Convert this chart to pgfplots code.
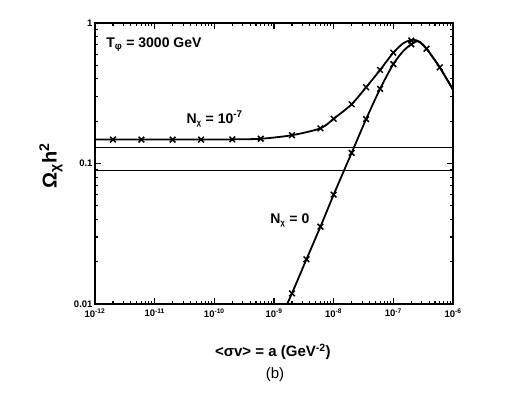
\documentclass[border=0pt]{standalone}
\usepackage{fontspec}
\setmainfont{Liberation Sans}
\usepackage{pgfplots}
\pgfplotsset{compat=1.18}

\begin{document}
\begin{tikzpicture}
\useasboundingbox (-95pt,-89pt) rectangle (431pt,304pt);
\begin{axis}[
  scale only axis, width=358pt, height=281pt,
  xmode=log, ymode=log,
  xmin=1e-12, xmax=1e-6, ymin=0.01, ymax=1,
  axis line style={line width=1.8pt},
  tick align=inside,
  major tick length=6pt, minor tick length=3pt,
  every tick/.style={black, line width=1.1pt},
  xtick={1e-12,1e-11,1e-10,1e-9,1e-8,1e-7,1e-6},
  xticklabels={10\textsuperscript{-12},10\textsuperscript{-11},10\textsuperscript{-10},10\textsuperscript{-9},10\textsuperscript{-8},10\textsuperscript{-7},10\textsuperscript{-6}},
  ytick={0.01,0.1,1}, yticklabels={0.01,0.1,1},
  tick label style={font=\fontsize{9.5}{10}\selectfont\bfseries},
  xticklabel style={yshift=-1pt},
  yticklabel style={xshift=1pt},
  clip mode=individual,
]
% WMAP band
\addplot[black, line width=0.8pt] coordinates {(1e-12,0.13) (1e-6,0.13)};
\addplot[black, line width=0.8pt] coordinates {(1e-12,0.089) (1e-6,0.089)};

% N_chi = 1e-7
\addplot[black, line width=1.8pt, smooth, tension=0.45] coordinates {
  (1e-12,0.148) (2e-12,0.148) (6e-12,0.148) (2e-11,0.148) (6e-11,0.148)
  (2e-10,0.1485) (6e-10,0.150) (2e-9,0.159) (6e-9,0.178) (1e-8,0.208)
  (2e-8,0.264) (3.5e-8,0.349) (6e-8,0.463) (1e-7,0.615) (1.5e-7,0.722)
  (2.15e-7,0.76) (2.8e-7,0.732) (3.6e-7,0.656) (6e-7,0.483) (1e-6,0.335)};
\addplot[black, only marks, mark=x, mark size=4pt, mark options={line width=1.5pt}] coordinates {
  (2e-12,0.148) (6e-12,0.148) (2e-11,0.148) (6e-11,0.148)
  (2e-10,0.1485) (6e-10,0.150) (2e-9,0.159) (6e-9,0.178) (1e-8,0.208)
  (2e-8,0.264) (3.5e-8,0.349) (6e-8,0.463) (1e-7,0.615) (2e-7,0.75)
  (3.6e-7,0.656) (6e-7,0.483)};

% N_chi = 0
\addplot[black, line width=1.8pt, smooth, tension=0.45] coordinates {
  (1.66e-9,0.01) (2e-9,0.0119) (3.5e-9,0.0208) (6e-9,0.0355) (1e-8,0.060)
  (2e-8,0.119) (3.5e-8,0.207) (6e-8,0.34) (1e-7,0.51) (1.5e-7,0.638)
  (2e-7,0.705) (2.6e-7,0.74) (3.6e-7,0.656) (6e-7,0.483) (1e-6,0.335)};
\addplot[black, only marks, mark=x, mark size=4pt, mark options={line width=1.5pt}] coordinates {
  (2e-9,0.0119) (3.5e-9,0.0208) (6e-9,0.0355) (1e-8,0.060)
  (2e-8,0.119) (3.5e-8,0.207) (6e-8,0.34) (1e-7,0.51) (2e-7,0.705)};

\node[anchor=base west, font=\fontsize{14}{16}\selectfont\bfseries]
  at (axis description cs:0.022,0.912) {T\textsubscript{φ} = 3000 GeV};
\node[anchor=base west, font=\fontsize{14}{16}\selectfont\bfseries]
  at (axis description cs:0.246,0.644) {N\textsubscript{\fontsize{8}{9}\selectfont χ} = 10\textsuperscript{-7}};
\node[anchor=base west, font=\fontsize{14}{16}\selectfont\bfseries]
  at (axis description cs:0.480,0.287) {N\textsubscript{\fontsize{8}{9}\selectfont χ} = 0};

\node[rotate=90, font=\fontsize{20}{22}\selectfont\bfseries]
  at (axis description cs:-0.123,0.491) {Ω\textsubscript{χ}h\textsuperscript{2}};
\node[font=\fontsize{15}{18}\selectfont\bfseries]
  at (axis description cs:0.497,-0.171) {<σv> = a (GeV\textsuperscript{-2})};
\node[font=\fontsize{15}{18}\selectfont]
  at (axis description cs:0.503,-0.253) {(b)};
\end{axis}
\end{tikzpicture}
\end{document}
